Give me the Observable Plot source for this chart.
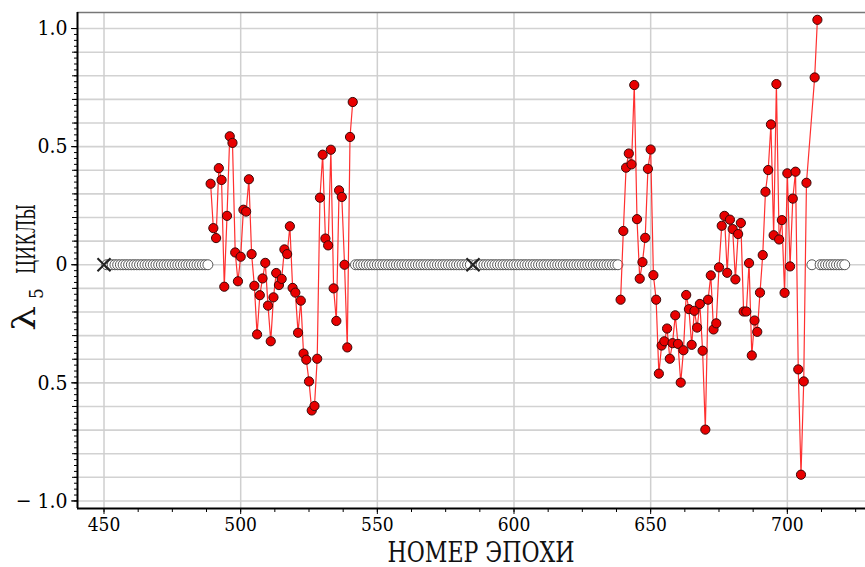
<!DOCTYPE html>
<html>
<head>
<meta charset="utf-8">
<script src="https://cdn.jsdelivr.net/npm/d3@7"></script>
<script src="https://cdn.jsdelivr.net/npm/@observablehq/plot@0.6"></script>
<style>
  html, body { margin: 0; padding: 0; background: white; }
  svg text, svg tspan { font-family: "DejaVu Serif Condensed", "DejaVu Serif" !important; }
</style>
</head>
<body>
<div id="chart"></div>
<script>
// ---- data ----
const seg1Start = 489;
const seg1Values = [
  0.343, 0.155, 0.113, 0.409, 0.359, -0.093, 0.207, 0.544, 0.516, 0.052,
  -0.07, 0.034, 0.233, 0.225, 0.362, 0.045, -0.089, -0.295, -0.129, -0.058,
  0.008, -0.173, -0.324, -0.138, -0.035, -0.086, -0.06, 0.065, 0.045, 0.163,
  -0.098, -0.118, -0.288, -0.152, -0.376, -0.402, -0.494, -0.617, -0.598, -0.398,
  0.284, 0.466, 0.111, 0.082, 0.487, -0.1, -0.238, 0.315, 0.287, 0,
  -0.35, 0.541, 0.689
];
const seg2Start = 639;
const seg2Values = [
  -0.148, 0.143, 0.411, 0.471, 0.425, 0.761, 0.193, -0.059, 0.011, 0.114,
  0.406, 0.488, -0.044, -0.148, -0.461, -0.342, -0.324, -0.27, -0.398, -0.332,
  -0.214, -0.335, -0.499, -0.362, -0.128, -0.188, -0.339, -0.195, -0.266, -0.166,
  -0.364, -0.698, -0.148, -0.045, -0.274, -0.248, -0.011, 0.165, 0.207, -0.034,
  0.191, 0.151, -0.062, 0.13, 0.177, -0.198, -0.198, 0.007, -0.384, -0.236,
  -0.284, -0.118, 0.041, 0.309, 0.401, 0.594, 0.125, 0.765, 0.107, 0.189,
  -0.119, 0.387, -0.007, 0.28, 0.394, -0.443, -0.889, -0.494, 0.347
];
const seg3Epochs = [710, 711];
const seg3Values = [0.793, 1.037];

const crossEpochs = [450, 585];
const emptyRanges = [[451, 488], [542, 638], [709, 709], [712, 721]];

const xMajorTicks = [450, 500, 550, 600, 650, 700];
const yTickValues = [-1, -0.5, 0, 0.5, 1];
const yTickLabels = ["\u2212 1.0", "0.5", "0", "0.5", "1.0"];
const xLabel = "НОМЕР ЭПОХИ";
const yLabelSymbol = "λ";
const yLabelSub = "5";
const yLabelText = "ЦИКЛЫ";

// ---- build tables ----
const redData = [];
seg1Values.forEach((v, i) => redData.push({epoch: seg1Start + i, value: v, seg: "a"}));
seg2Values.forEach((v, i) => redData.push({epoch: seg2Start + i, value: v, seg: "b"}));
seg3Values.forEach((v, i) => redData.push({epoch: seg3Epochs[i], value: v, seg: "b"}));

const emptyData = [];
emptyRanges.forEach(([a, b]) => {
  for (let e = a; e <= b; e++) if (!crossEpochs.includes(e)) emptyData.push({epoch: e, value: 0});
});
const crossData = crossEpochs.map(e => ({epoch: e, value: 0}));

const xDomain = [440.3, 728.6];
const yDomain = [-1.032, 1.068];
const xMinorTicks = d3.range(450, 728, 12.5);
const yGrid = d3.range(-10, 11).map(d => d / 10);
const yMinor = d3.range(-40, 41).map(d => d / 40);

const FONT = "DejaVu Serif Condensed, DejaVu Serif";

const chart = Plot.plot({
  width: 865,
  height: 567,
  marginLeft: 77,
  marginRight: 0,
  marginTop: 12,
  marginBottom: 59,
  x: {domain: xDomain},
  y: {domain: yDomain},
  style: {fontSize: "20px", background: "white", color: "black", overflow: "visible"},
  marks: [
    Plot.ruleY(yGrid, {stroke: "#d2d2d2", strokeWidth: 1.6}),
    Plot.ruleX(xMajorTicks, {stroke: "#cfcfcf", strokeWidth: 1.5}),
    Plot.ruleY([yDomain[1]], {stroke: "#777", strokeWidth: 1.5}),
    Plot.dot(emptyData, {x: "epoch", y: "value", r: 5, fill: "white", stroke: "#555", strokeWidth: 1}),
    Plot.dot(crossData, {x: "epoch", y: "value", symbol: "times", r: 6, stroke: "#222", strokeWidth: 2}),
    Plot.line(redData, {x: "epoch", y: "value", z: "seg", stroke: "#ff3030", strokeWidth: 1.2}),
    Plot.dot(redData, {x: "epoch", y: "value", r: 4.6, fill: "#e80000", stroke: "#3a0808", strokeWidth: 1}),
    Plot.ruleX([xDomain[0]], {stroke: "black", strokeWidth: 2}),
    Plot.ruleY([yDomain[0]], {stroke: "black", strokeWidth: 2}),
    Plot.axisX({ticks: xMinorTicks, tickSize: 4, tickFormat: () => "", label: null}),
    Plot.axisX({ticks: xMajorTicks, tickSize: 6, tickPadding: 3, tickFormat: d => String(d), label: null, fontSize: 19}),
    Plot.axisY({ticks: yMinor, tickSize: 3, tickFormat: () => "", label: null}),
    Plot.axisY({ticks: yGrid, tickSize: 5, tickFormat: () => "", label: null}),
    Plot.axisY({ticks: yTickValues, tickSize: 6, tickPadding: 4, tickFormat: d => yTickLabels[yTickValues.indexOf(d)], label: null, fontSize: 21})
  ]
});

document.getElementById("chart").appendChild(chart);

const svg = d3.select(chart).attr("font-family", FONT);
svg.append("text")
  .attr("x", 481).attr("y", 562)
  .attr("text-anchor", "middle")
  .attr("font-size", 27)
  .attr("fill", "#111")
  .attr("textLength", 187)
  .attr("lengthAdjust", "spacingAndGlyphs")
  .text(xLabel);

const yl = svg.append("text")
  .attr("transform", "translate(35,331) rotate(-90)")
  .attr("x", 0).attr("y", 0)
  .attr("text-anchor", "start")
  .attr("fill", "#111");
yl.append("tspan").attr("font-size", 31).attr("textLength", 25).attr("lengthAdjust", "spacingAndGlyphs").text(yLabelSymbol);
yl.append("tspan").attr("font-size", 19).attr("x", 32).attr("dy", 8).text(yLabelSub);
yl.append("tspan").attr("font-size", 26).attr("dy", -8).attr("x", 57)
  .attr("textLength", 70).attr("lengthAdjust", "spacingAndGlyphs").text(yLabelText);

svg.selectAll("text").attr("font-family", FONT);
</script>
</body>
</html>
